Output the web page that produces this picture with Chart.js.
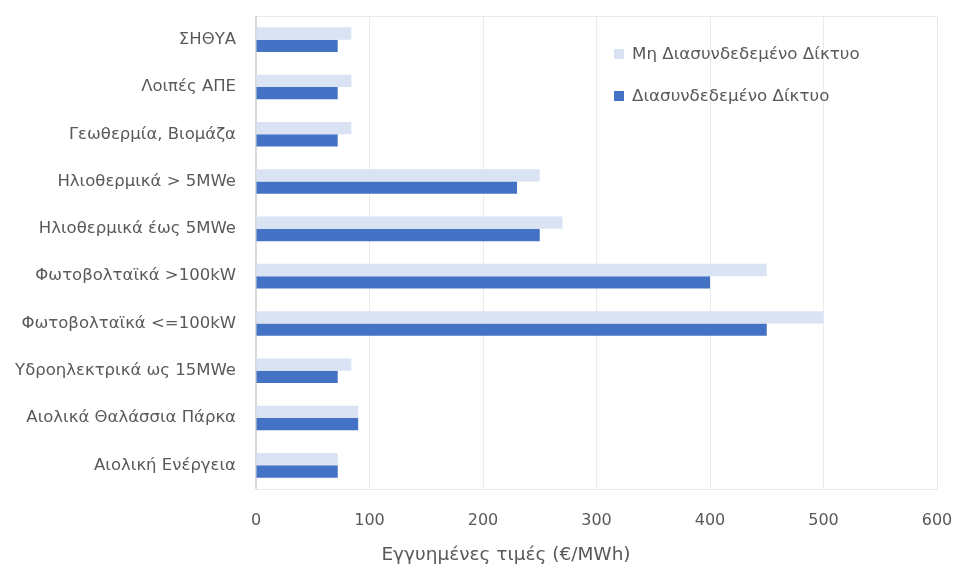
<!DOCTYPE html>
<html>
<head>
<meta charset="utf-8">
<script src="https://cdn.jsdelivr.net/npm/chart.js@4/dist/chart.umd.min.js"></script>
<style>
  html, body { margin: 0; padding: 0; background: #fff; }
  #wrap { position: relative; width: 957px; height: 571px; }
  #legend { position: absolute; left: 614px; top: 42px; font: 16.7px "DejaVu Sans", sans-serif; color: #595959; }
  #legend div { height: 22px; line-height: 22px; margin-bottom: 20px; white-space: nowrap; }
  #legend span { display: inline-block; width: 10px; height: 10px; margin-right: 8px; vertical-align: 0px; }
  #xtitle { position: absolute; left: 306px; width: 400px; top: 543px; text-align: center; font: 18.5px "DejaVu Sans", sans-serif; color: #595959; }
</style>
</head>
<body>
<div id="wrap">
  <canvas id="chart" width="957" height="571"></canvas>
  <div id="legend"></div>
  <div id="xtitle">Εγγυημένες τιμές (€/MWh)</div>
</div>
<script>
const categories = [
  'ΣΗΘΥΑ',
  'Λοιπές ΑΠΕ',
  'Γεωθερμία, Βιομάζα',
  'Ηλιοθερμικά > 5MWe',
  'Ηλιοθερμικά έως 5MWe',
  'Φωτοβολταϊκά >100kW',
  'Φωτοβολταϊκά <=100kW',
  'Υδροηλεκτρικά ως 15MWe',
  'Αιολικά Θαλάσσια Πάρκα',
  'Αιολική Ενέργεια'
];
const seriesNames = ['Μη Διασυνδεδεμένο Δίκτυο', 'Διασυνδεδεμένο Δίκτυο'];
const nonInterconnected = [84, 84, 84, 250, 270, 450, 500, 84, 90, 72];
const interconnected = [72, 72, 72, 230, 250, 400, 450, 72, 90, 72];
const seriesColors = ['#DAE3F3', '#4472C4'];
const xTicks = [0, 100, 200, 300, 400, 500, 600];

// Legend as plain html over the plot area
const legendEl = document.getElementById('legend');
seriesNames.forEach((name, i) => {
  const row = document.createElement('div');
  row.innerHTML = '<span style="background:' + seriesColors[i] + '"></span>' + name;
  legendEl.appendChild(row);
});

// Light frame round the plot area
const frame = {
  id: 'frame',
  beforeDatasetsDraw(chart) {
    const a = chart.chartArea;
    const ctx = chart.ctx;
    ctx.save();
    ctx.strokeStyle = '#ebebeb';
    ctx.lineWidth = 1;
    ctx.strokeRect(a.left + 0.5, a.top + 0.5, a.right - a.left, a.bottom - a.top);
    ctx.strokeStyle = '#d9d9d9';
    ctx.lineWidth = 2;
    ctx.beginPath();
    ctx.moveTo(a.left, a.top);
    ctx.lineTo(a.left, a.bottom);
    ctx.stroke();
    ctx.restore();
  }
};

// Drop the label overhang so the layout padding decides the plot edges
function noOverhang(scale) {
  scale.paddingLeft = 0;
  scale.paddingRight = 0;
  scale.paddingTop = 0;
  scale.paddingBottom = 0;
}

Chart.defaults.font.family = '"DejaVu Sans", sans-serif';
Chart.defaults.color = '#595959';

new Chart(document.getElementById('chart').getContext('2d'), {
  type: 'bar',
  data: {
    labels: categories,
    datasets: [
      { label: seriesNames[0], data: nonInterconnected, backgroundColor: seriesColors[0] },
      { label: seriesNames[1], data: interconnected, backgroundColor: seriesColors[1] }
    ]
  },
  options: {
    indexAxis: 'y',
    responsive: false,
    animation: false,
    layout: { padding: { top: 16, right: 20, left: 0, bottom: 0 } },
    datasets: { bar: { barPercentage: 1, categoryPercentage: 0.52 } },
    plugins: { legend: { display: false }, tooltip: { enabled: false } },
    scales: {
      x: {
        min: 0,
        max: 600,
        afterBuildTicks: scale => { scale.ticks = xTicks.map(v => ({ value: v })); },
        afterFit: scale => { scale.height = 82; noOverhang(scale); },
        grid: { color: '#ebebeb', drawTicks: false },
        border: { display: false },
        ticks: { padding: 22, font: { size: 16 }, color: '#595959' }
      },
      y: {
        afterFit: scale => { scale.width = 256; noOverhang(scale); },
        grid: { display: false, drawTicks: false },
        border: { display: false },
        ticks: { padding: 20, font: { size: 16.5 }, color: '#595959' }
      }
    }
  },
  plugins: [frame]
});
</script>
</body>
</html>
